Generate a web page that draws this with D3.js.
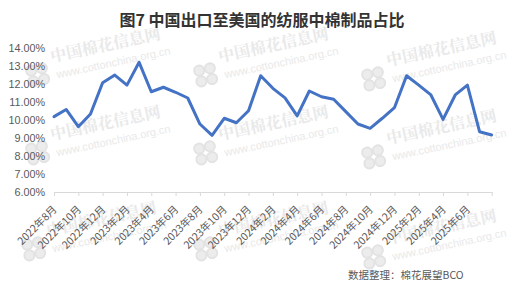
<!DOCTYPE html>
<html><head><meta charset="utf-8">
<script src="https://cdn.jsdelivr.net/npm/d3@7"></script>
<style>
html,body{margin:0;padding:0;background:#fff;}
svg{display:block;}
</style></head>
<body>
<svg id="chart" width="507" height="288"></svg>
<script>
const title = "图7 中国出口至美国的纺服中棉制品占比";
const source = "数据整理：棉花展望BCO";
const months = ["2022年8月","2022年9月","2022年10月","2022年11月","2022年12月",
  "2023年1月","2023年2月","2023年3月","2023年4月","2023年5月","2023年6月","2023年7月",
  "2023年8月","2023年9月","2023年10月","2023年11月","2023年12月",
  "2024年1月","2024年2月","2024年3月","2024年4月","2024年5月","2024年6月","2024年7月",
  "2024年8月","2024年9月","2024年10月","2024年11月","2024年12月",
  "2025年1月","2025年2月","2025年3月","2025年4月","2025年5月","2025年6月","2025年7月","2025年8月"];
const values = [10.20,10.60,9.64,10.35,12.09,12.52,11.96,13.23,11.59,11.84,11.56,11.24,
  9.79,9.16,10.11,9.86,10.53,12.48,11.78,11.25,10.24,11.63,11.31,11.17,
  10.48,9.79,9.55,10.11,10.70,12.48,11.96,11.41,10.05,11.41,11.96,9.36,9.18];
const yTicks = [6,7,8,9,10,11,12,13,14];
const wmTitle = "中国棉花信息网";
const wmUrl = "www.cottonchina.org.cn";

(function(){
const svg = d3.select("#chart");
const cjk = "'Noto Sans CJK SC','Noto Sans',sans-serif";
const mLeft = 54, mRight = 491.7, mTop = 48.5, mBottom = 192;

// watermarks
const wmPos = [[24,66],[192,66],[360,70],[24,144],[192,144],[360,148],[20,240],[192,240],[360,248]];
const wm = svg.append("g");
wmPos.forEach(([wx,wy])=>{
  const g = wm.append("g").attr("transform",`translate(${wx},${wy}) rotate(-12)`);
  [[6,6],[17,6],[6,17],[17,17]].forEach(([cx,cy])=>{
    g.append("circle").attr("cx",cx).attr("cy",cy).attr("r",5)
      .attr("fill","#ececec").attr("stroke","#e3e3e3").attr("stroke-width",2);
  });
  g.append("text").attr("x",28).attr("y",2).text(wmTitle)
    .attr("font-family","'Noto Serif CJK SC','Noto Sans CJK SC',serif").attr("font-weight","bold")
    .attr("font-size",16).attr("fill","#e9e9e9");
  g.append("text").attr("x",30).attr("y",19).text(wmUrl)
    .attr("font-family","'Liberation Sans',Arial,sans-serif")
    .attr("font-size",11).attr("fill","#e9e9e9");
});

const x = d3.scalePoint().domain(months).range([mLeft,mRight]);
const y = d3.scaleLinear().domain([6,14]).range([mBottom,mTop]);

// title
svg.append("text").attr("x",262).attr("y",26).attr("text-anchor","middle")
  .attr("font-family",cjk).attr("font-weight","bold").attr("font-size",16)
  .attr("fill","#333").text(title);

// y axis
const yAxis = svg.append("g").attr("transform",`translate(${mLeft},0)`)
  .call(d3.axisLeft(y).tickValues(yTicks).tickSize(0).tickPadding(9)
    .tickFormat(d=>d.toFixed(2)+"%"));
yAxis.select(".domain").remove();
yAxis.selectAll("text").attr("font-family","'Liberation Sans',Arial,sans-serif")
  .attr("font-size",10.8).attr("fill","#595959");

// x axis
const tickMonths = months.filter((d,i)=>i%2===0);
const last = months[months.length-1];
const xAxis = svg.append("g").attr("transform",`translate(0,${mBottom})`)
  .call(d3.axisBottom(x).tickValues(tickMonths).tickSize(4).tickSizeOuter(0)
    .tickFormat(d=> d===last ? "" : d));
xAxis.select(".domain").attr("stroke","#d9d9d9");
xAxis.selectAll(".tick line").attr("stroke","#d9d9d9");
xAxis.selectAll("text")
  .attr("font-family",cjk).attr("font-size",10.5).attr("fill","#595959")
  .attr("text-anchor","end").attr("dy",null).attr("y",null)
  .attr("transform","translate(3,18) rotate(-45)");

// line
svg.append("path").datum(values)
  .attr("fill","none").attr("stroke","#4472C4").attr("stroke-width",3)
  .attr("stroke-linejoin","round").attr("stroke-linecap","round")
  .attr("d", d3.line().x((d,i)=>x(months[i])).y(d=>y(d)));

// source
svg.append("text").attr("x",348).attr("y",279)
  .attr("font-family",cjk).attr("font-size",10.5).attr("fill","#595959").text(source);
})();
</script>
</body></html>
